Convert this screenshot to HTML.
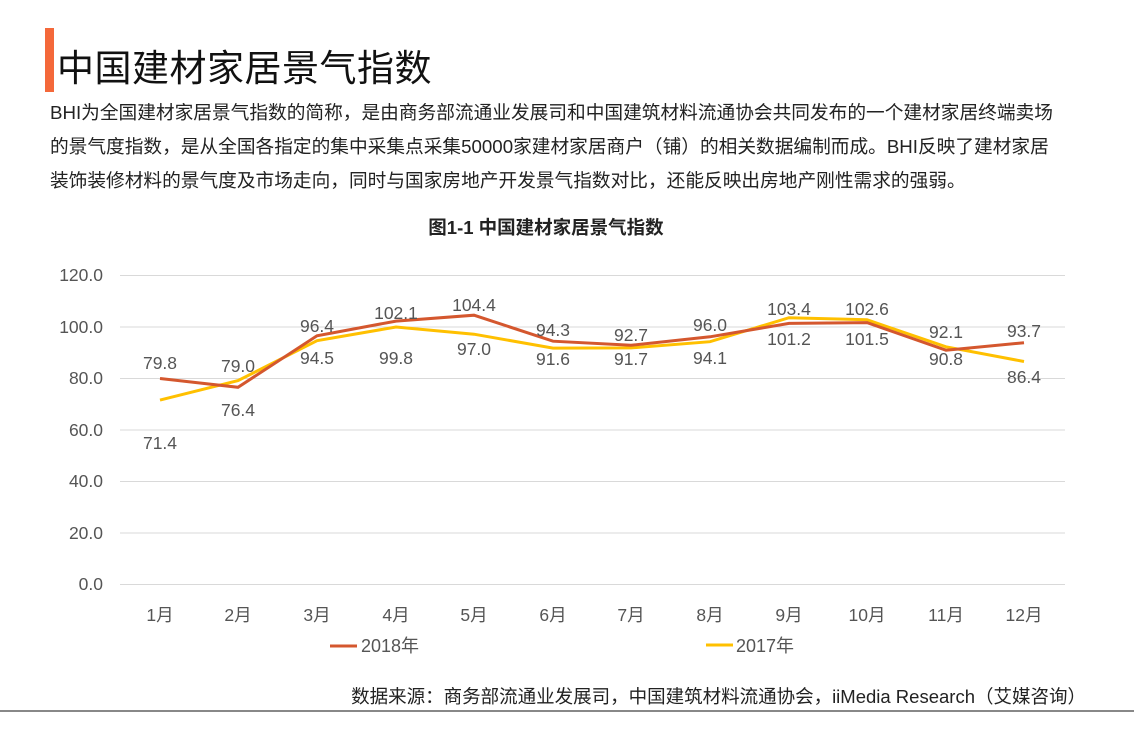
<!DOCTYPE html>
<html><head><meta charset="utf-8"><style>
body{margin:0;width:1134px;height:737px;background:#fff;overflow:hidden;position:relative;font-family:"Liberation Sans","Noto Sans CJK SC",sans-serif}
.bar{position:absolute;left:45px;top:28px;width:9px;height:64px;background:#f4683a}
.t{position:absolute;left:57px;top:38px;font-size:37px;color:#111;white-space:nowrap;letter-spacing:0.5px}
.p{position:absolute;left:50px;top:96px;font-size:18.7px;line-height:34px;color:#222;width:1100px;white-space:nowrap}
.src{position:absolute;right:48px;top:683px;font-size:18.5px;color:#222;white-space:nowrap}
.line{position:absolute;left:0;top:710px;width:1134px;height:2px;background:#888}
</style></head><body>
<div class="bar"></div>
<div class="t">中国建材家居景气指数</div>
<div class="p">BHI为全国建材家居景气指数的简称，是由商务部流通业发展司和中国建筑材料流通协会共同发布的一个建材家居终端卖场<br>的景气度指数，是从全国各指定的集中采集点采集50000家建材家居商户（铺）的相关数据编制而成。BHI反映了建材家居<br>装饰装修材料的景气度及市场走向，同时与国家房地产开发景气指数对比，还能反映出房地产刚性需求的强弱。</div>
<svg width="1134" height="737" style="position:absolute;left:0;top:0" font-family="Liberation Sans, Noto Sans CJK SC, sans-serif">
<text x="546" y="234" font-size="18.5" font-weight="bold" text-anchor="middle" fill="#222">图1-1 中国建材家居景气指数</text>
<g stroke="#d9d9d9" stroke-width="1">
<line x1="120" x2="1065" y1="275.5" y2="275.5"/><line x1="120" x2="1065" y1="327" y2="327"/><line x1="120" x2="1065" y1="378.5" y2="378.5"/><line x1="120" x2="1065" y1="430" y2="430"/><line x1="120" x2="1065" y1="481.5" y2="481.5"/><line x1="120" x2="1065" y1="533" y2="533"/><line x1="120" x2="1065" y1="584.5" y2="584.5"/>
</g>
<g font-size="17.5" fill="#555" text-anchor="end">
<text x="103" y="281">120.0</text><text x="103" y="333">100.0</text><text x="103" y="384">80.0</text><text x="103" y="436">60.0</text><text x="103" y="487">40.0</text><text x="103" y="539">20.0</text><text x="103" y="590">0.0</text>
</g>
<g font-size="17.5" fill="#555" text-anchor="middle">
<text x="160" y="621">1月</text><text x="238" y="621">2月</text><text x="317" y="621">3月</text><text x="396" y="621">4月</text><text x="474" y="621">5月</text><text x="553" y="621">6月</text><text x="631" y="621">7月</text><text x="710" y="621">8月</text><text x="789" y="621">9月</text><text x="867" y="621">10月</text><text x="946" y="621">11月</text><text x="1024" y="621">12月</text>
</g>
<polyline fill="none" stroke="#ffc000" stroke-width="3" points="160,400.1 238,380.6 317,340.7 396,327 474,334.2 553,348.1 631,347.9 710,341.7 789,317.7 867,319.8 946,346.8 1024,361.5"/>
<polyline fill="none" stroke="#d4572e" stroke-width="3" points="160,378.5 238,387.3 317,335.8 396,321.1 474,315.2 553,341.2 631,345.3 710,336.8 789,323.4 867,322.6 946,350.2 1024,342.7"/>
<g font-size="17.5" fill="#555" text-anchor="middle">
<text x="160" y="369">79.8</text><text x="238" y="372">79.0</text><text x="160" y="449">71.4</text><text x="238" y="416">76.4</text>
<text x="317" y="332">96.4</text><text x="317" y="364">94.5</text><text x="396" y="319">102.1</text><text x="396" y="364">99.8</text>
<text x="474" y="311">104.4</text><text x="474" y="355">97.0</text><text x="553" y="336">94.3</text><text x="553" y="365">91.6</text>
<text x="631" y="341">92.7</text><text x="631" y="365">91.7</text><text x="710" y="331">96.0</text><text x="710" y="364">94.1</text>
<text x="789" y="315">103.4</text><text x="789" y="345">101.2</text><text x="867" y="315">102.6</text><text x="867" y="345">101.5</text>
<text x="946" y="338">92.1</text><text x="946" y="365">90.8</text><text x="1024" y="337">93.7</text><text x="1024" y="383">86.4</text>
</g>
<line x1="330" x2="357" y1="646" y2="646" stroke="#d4572e" stroke-width="3"/>
<text x="361" y="652" font-size="18" fill="#555">2018年</text>
<line x1="706" x2="733" y1="645" y2="645" stroke="#ffc000" stroke-width="3"/>
<text x="736" y="652" font-size="18" fill="#555">2017年</text>
</svg>
<div class="src">数据来源：商务部流通业发展司，中国建筑材料流通协会，iiMedia Research（艾媒咨询）</div>
<div class="line"></div>
</body></html>
